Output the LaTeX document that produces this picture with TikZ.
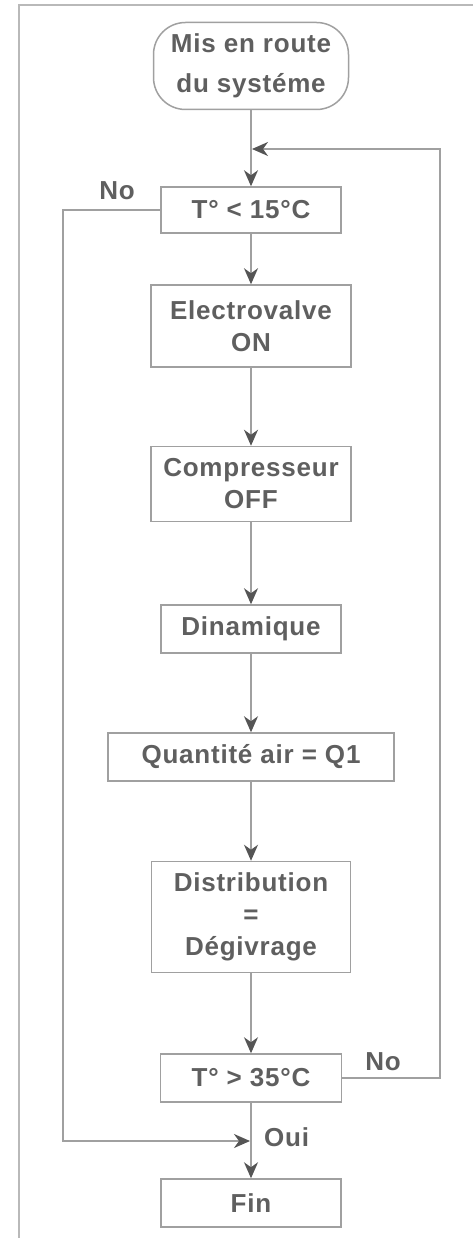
\documentclass[tikz,border=0pt]{standalone}
\usepackage{fontspec}
\setmainfont{Liberation Sans}
\newfontfamily\lbl[LetterSpace=3]{Liberation Sans}
\usetikzlibrary{arrows.meta}
\definecolor{linegray}{RGB}{160,160,160}
\definecolor{textgray}{RGB}{95,95,95}
\definecolor{tipgray}{RGB}{85,85,85}
\definecolor{framegray}{RGB}{185,185,185}
\begin{document}
\begin{tikzpicture}[x=1pt,y=-1pt,
  box/.style={draw=linegray, line width=1.5pt, inner sep=0pt, align=center,
    text=textgray, font=\lbl\bfseries\fontsize{26}{32}\selectfont},
  flow/.style={draw=linegray, line width=1.5pt,
    -{Stealth[length=16pt,width=14pt,inset=5pt,color=tipgray]}},
  lab/.style={text=textgray, font=\lbl\bfseries\fontsize{26}{32}\selectfont, inner sep=0pt}]
\useasboundingbox (0,0) rectangle (473,1238);
\fill[white] (0,0) rectangle (473,1238);
% frame
\draw[framegray, line width=2pt] (19,1240) -- (19,5) -- (476,5);
% nodes
\node[box, rounded corners=32pt, minimum width=195pt, minimum height=87pt,
  font=\lbl\bfseries\fontsize{26}{40}\selectfont] (start) at (251,66) {Mis en route\\du systéme};
\node[box, minimum width=180pt, minimum height=46pt] (t15) at (251,210) {T° < 15°C};
\node[box, minimum width=200pt, minimum height=82pt] (elec) at (251,326) {Electrovalve\\ON};
\node[box, minimum width=200pt, minimum height=75pt] (comp) at (251,484) {Compresseur\\OFF};
\node[box, minimum width=180pt, minimum height=48pt] (dyn) at (251,629) {Dinamique};
\node[box, minimum width=286pt, minimum height=48pt] (qty) at (251,757) {Quantité air = Q1};
\node[box, minimum width=199pt, minimum height=111pt] (dist) at (251,917) {Distribution\\=\\Dégivrage};
\node[box, minimum width=181pt, minimum height=48pt] (t35) at (251,1078) {T° > 35°C};
\node[box, minimum width=180pt, minimum height=48pt] (fin) at (251,1203) {Fin};
% labels
\node[lab] (no1) at (117,191) {No};
\node[lab] (no2) at (383,1062) {No};
\node[lab, anchor=west] (oui) at (264,1137) {Oui};
% coordinates
\coordinate (j1) at (252,149);
\coordinate (rc) at (440,149);
\coordinate (lc) at (63,210);
\coordinate (j2) at (250,1141);
% connectors
\draw[flow] (start) -- (t15);
\draw[flow] (t15) -- (elec);
\draw[flow] (elec) -- (comp);
\draw[flow] (comp) -- (dyn);
\draw[flow] (dyn) -- (qty);
\draw[flow] (qty) -- (dist);
\draw[flow] (dist) -- (t35);
\draw[flow] (t35) -- (fin);
\draw[flow] (t35.east) -| (rc) -- (j1);
\draw[flow] (t15.west) -- (lc) |- (j2);
\end{tikzpicture}
\end{document}
